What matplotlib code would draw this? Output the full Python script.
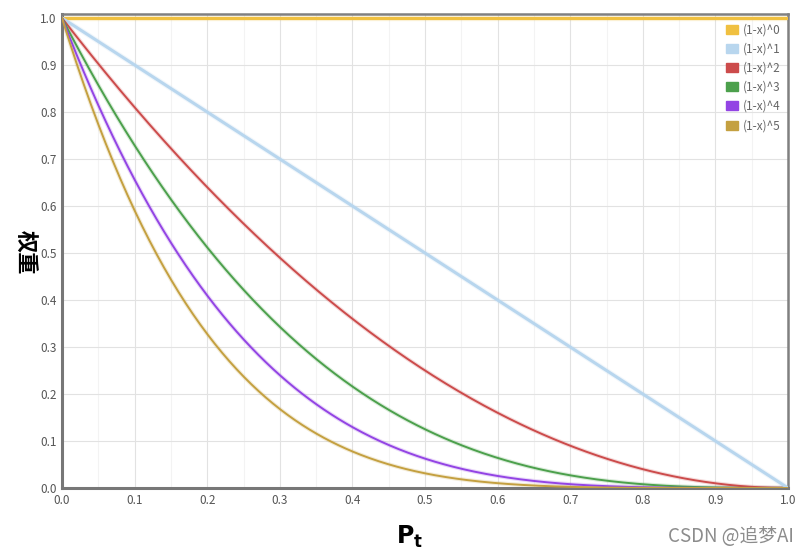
import numpy as np
import matplotlib
matplotlib.use("Agg")
import matplotlib.pyplot as plt
from matplotlib.patches import Patch
from matplotlib.ticker import MultipleLocator

plt.rcParams['font.family'] = ['Noto Sans CJK SC', 'DejaVu Sans']

exponents = [0, 1, 2, 3, 4, 5]
labels = ["(1-x)^0", "(1-x)^1", "(1-x)^2", "(1-x)^3", "(1-x)^4", "(1-x)^5"]
colors = ["#f0c040", "#b8d6ee", "#cc4b4b", "#4ca04c", "#9344e4", "#c4a040"]
ticks = [round(0.1 * i, 1) for i in range(11)]

fig = plt.figure(figsize=(8.07, 5.56), dpi=100)
# axes from x=62..788 px, y=14..488 px
ax = fig.add_axes([62 / 807, 1 - 488 / 556, 726 / 807, 474 / 556])

x = np.linspace(0, 1, 400)
for n, lab, c in zip(exponents, labels, colors):
    y = (1 - x) ** n
    lw = 2.2 if n in (0, 1) else 1.4
    ax.plot(x, y, color=c, lw=lw + 1.6, alpha=0.2, solid_capstyle='butt', zorder=2)
    ax.plot(x, y, color=c, lw=lw, zorder=3)

ax.set_xlim(0, 1)
ax.set_ylim(0, 1.0085)
ax.set_xticks(ticks)
ax.set_yticks(ticks)
ax.set_xticklabels([f"{t:.1f}" for t in ticks])
ax.set_yticklabels([f"{t:.1f}" for t in ticks])
ax.xaxis.set_minor_locator(MultipleLocator(0.05))
ax.grid(which='major', color='#e2e2e2', lw=0.8, zorder=0)
ax.grid(which='minor', axis='x', color='#f3f3f3', lw=0.8, zorder=0)
ax.tick_params(which='both', length=0, labelsize=8.5, labelcolor='#555555', pad=4)

for side in ['left', 'bottom']:
    ax.spines[side].set_color('#777777')
    ax.spines[side].set_linewidth(2.2)
for side in ['top', 'right']:
    ax.spines[side].set_color('#808080')
    ax.spines[side].set_linewidth(1.8)

handles = [Patch(facecolor=c, edgecolor=c, label=l) for c, l in zip(colors, labels)]
leg = ax.legend(handles=handles, loc='upper right', frameon=False, fontsize=8.5,
                handlelength=1.0, handleheight=0.8, handletextpad=0.45,
                labelspacing=0.52, borderaxespad=0.2, bbox_to_anchor=(1.0, 0.995))
for t in leg.get_texts():
    t.set_color('#666666')

fig.text(25 / 807, 1 - 252 / 556, "权重", rotation=270, fontsize=16, fontweight='bold',
         color='black', ha='center', va='center')
fig.text(410 / 807, 1 - 537 / 556, r"$\mathbf{P_t}$", fontsize=17, color='black',
         ha='center', va='center')
fig.text(794 / 807, 1 - 537 / 556, "CSDN @追梦AI", fontsize=13.5, color='#8c8c8c',
         ha='right', va='center')

fig.savefig("out.png", dpi=100)
